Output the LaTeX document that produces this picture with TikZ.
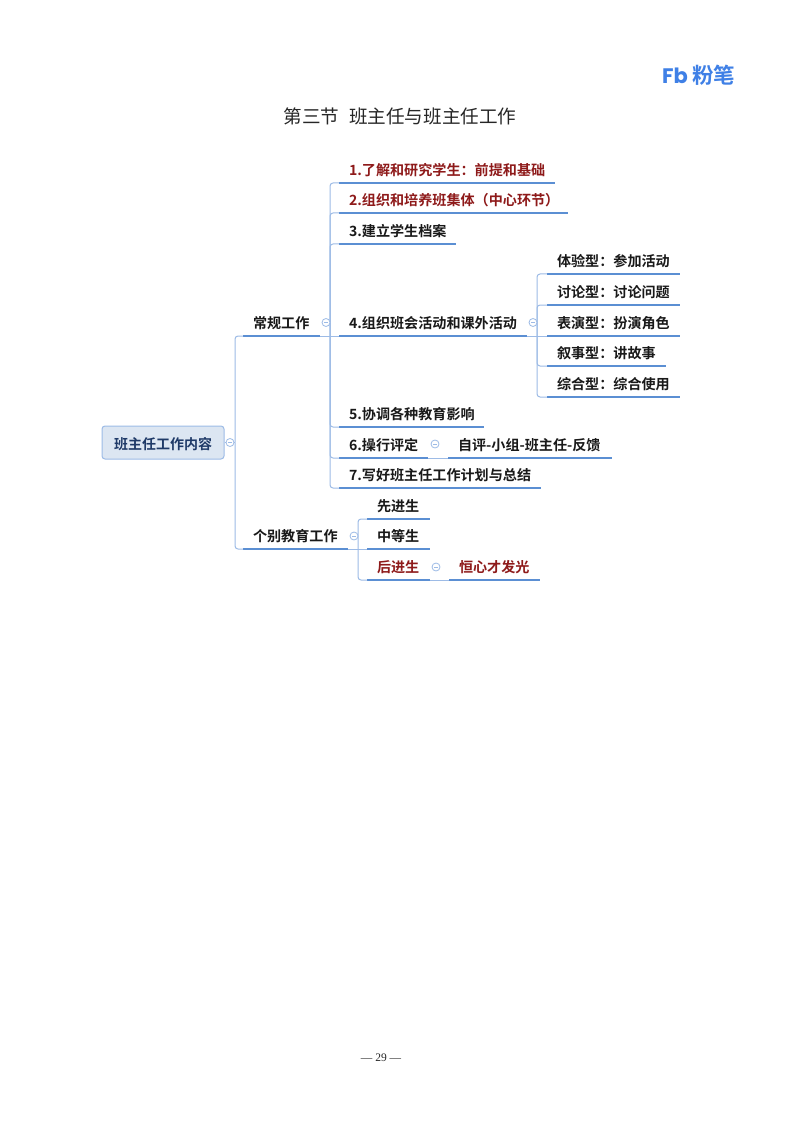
\documentclass[tikz,border=0pt]{standalone}
\usepackage{fontspec}
\setmainfont{Noto Sans CJK SC}[BoldFont={Noto Sans CJK SC Bold}]
\newfontfamily\lat{Liberation Serif}
\newfontfamily\logof{Poppins}[BoldFont={Poppins Bold}]
\definecolor{ulc}{HTML}{5B8FD3}
\definecolor{lnk}{HTML}{9DBBE6}
\definecolor{redt}{HTML}{8E1A1A}
\definecolor{rootf}{HTML}{DCE6F2}
\definecolor{roott}{HTML}{1F3A68}
\definecolor{logoc}{HTML}{3F80E6}
\tikzset{
  x=1pt,y=-1pt,
  topic/.style={inner sep=0pt,outer sep=0pt,minimum height=25pt,anchor=south west,font=\fontsize{14.1}{16}\selectfont\bfseries,text=black!90,align=left},
  redtopic/.style={topic,text=redt},
  ul/.style={draw=ulc,line width=2.5pt},
  link/.style={draw=lnk,line width=1pt,rounded corners=3pt},
  tog/.style={circle,draw=lnk,line width=.8pt,fill=white,minimum size=8pt,inner sep=0pt,outer sep=0pt},
}
\newcommand{\tp}[6][topic]{% style, name, x, y, width, text
  \node[#1,minimum width=#5pt,text width=#5pt-10pt,inner sep=0pt,xshift=0pt] (#2) at (#3,#4) {\hspace*{5pt}\mbox{#6}};
  \draw[ul] (#2.south west) -- (#2.south east);
}
\begin{document}
\begin{tikzpicture}
\useasboundingbox (0,0) rectangle (800,1131);
\fill[white] (0,0) rectangle (800,1131);

% header
\node[font=\logof\fontsize{21}{21}\selectfont\bfseries,text=logoc,inner sep=0pt,anchor=west] (logo1) at (662,75.5) {Fb};
\node[font=\fontsize{21.5}{22}\selectfont\bfseries,text=logoc,inner sep=0pt,anchor=west] (logo2) at (692,75.5) {粉笔};
\node[font=\fontsize{18.6}{20}\selectfont,inner sep=0pt,text=black!85] (title) at (400,116) {第三节\hspace{10pt}班主任与班主任工作};
\node[font=\lat\fontsize{11.5}{13}\selectfont,inner sep=0pt,text=black!85] (page) at (381,1058) {— 29 —};

% root
\node[draw=lnk,line width=1pt,fill=rootf,rounded corners=3pt,minimum width=122pt,minimum height=33pt,inner sep=0pt,text=roott,font=\fontsize{14}{16}\selectfont\bfseries] (root) at (163,442.5) {\raisebox{-6.5pt}[0pt][0pt]{班主任工作内容}};

% level 1
\tp{a}{243}{336}{77}{常规工作}
\tp{b}{243}{549}{105}{个别教育工作}

% level 2 under a
\tp[redtopic]{a1}{339}{183}{216}{1.了解和研究学生：前提和基础}
\tp[redtopic]{a2}{339}{213}{229}{2.组织和培养班集体（中心环节）}
\tp{a3}{339}{244}{117}{3.建立学生档案}
\tp{a4}{339}{336}{188}{4.组织班会活动和课外活动}
\tp{a5}{339}{427}{145}{5.协调各种教育影响}
\tp{a6}{339}{458}{89}{6.操行评定}
\tp{a7}{339}{488}{202}{7.写好班主任工作计划与总结}

% level 3 under a4
\tp{c1}{547}{274}{133}{体验型：参加活动}
\tp{c2}{547}{305}{133}{讨论型：讨论问题}
\tp{c3}{547}{336}{133}{表演型：扮演角色}
\tp{c4}{547}{366}{119}{叙事型：讲故事}
\tp{c5}{547}{397}{133}{综合型：综合使用}

\tp{a6x}{448}{458}{164}{自评-小组-班主任-反馈}

% under b
\tp{b1}{367}{519}{63}{先进生}
\tp{b2}{367}{549}{63}{中等生}
\tp[redtopic]{b3}{367}{580}{63}{后进生}
\tp[redtopic]{b3x}{449}{580}{91}{恒心才发光}

% hubs
\coordinate (h0) at (235,442.5);
\coordinate (h1) at (330,336);
\coordinate (h2) at (537,336);
\coordinate (h3) at (358,549);

% connectors
\draw[link] (root.east) -- (h0);
\draw[link] (h0) |- (a.south west);
\draw[link] (h0) |- (b.south west);

\draw[link] (a.south east) -- (a4.south west);
\foreach \n in {a1,a2,a3,a5,a6,a7} \draw[link] (h1) |- (\n.south west);

\draw[link] (a4.south east) -- (c3.south west);
\foreach \n in {c1,c2,c4,c5} \draw[link] (h2) |- (\n.south west);

\draw[link] (b.south east) -- (b2.south west);
\draw[link] (h3) |- (b1.south west);
\draw[link] (h3) |- (b3.south west);

\draw[link] (a6.south east) -- (a6x.south west);
\draw[link] (b3.south east) -- (b3x.south west);

% collapse toggles
\node[tog] (t0) at (230,442.5) {};
\node[tog] (t1) at (326,322.5) {};
\node[tog] (t2) at (533,322.5) {};
\node[tog] (t3) at (354,536) {};
\node[tog] (t4) at (435,444) {};
\node[tog] (t5) at (436,567) {};
\foreach \n in {t0,t1,t2,t3,t4,t5} \draw[lnk,line width=.7pt] ([xshift=-2pt]\n.center) -- ([xshift=2pt]\n.center);
\end{tikzpicture}
\end{document}
